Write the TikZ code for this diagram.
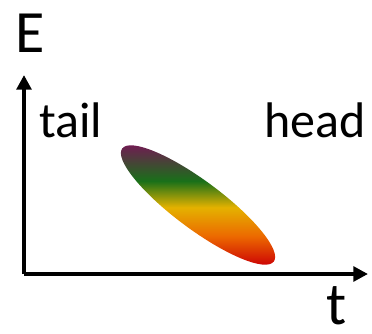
\documentclass[tikz,border=0pt]{standalone}
\usepackage{fontspec}
\setmainfont{Carlito}
\usepackage{tikz}
\usetikzlibrary{arrows.meta}

% colours of the energy blob
\definecolor{blobred}{RGB}{205,5,5}
\definecolor{bloborange}{RGB}{236,105,0}
\definecolor{blobyellow}{RGB}{228,178,0}
\definecolor{blobgreen}{RGB}{25,112,25}
\definecolor{blobpurple}{RGB}{112,28,82}
\pgfdeclareverticalshading{blobshade}{100bp}{color(0bp)=(blobred); color(25bp)=(blobred); color(37bp)=(bloborange); color(49bp)=(blobyellow); color(60bp)=(blobgreen); color(75bp)=(blobpurple); color(100bp)=(blobpurple)}

\begin{document}
\begin{tikzpicture}[
  x=0.75pt,y=-0.75pt,
  axis/.style={line width=3pt,-{Triangle[length=11pt,width=11pt]}},
  big/.style={inner sep=0pt,anchor=base west,text depth=0pt,font=\fontsize{45}{48}\selectfont},
  lab/.style={inner sep=0pt,anchor=base west,font=\fontsize{37.5}{40}\selectfont}
]
\useasboundingbox (0,0) rectangle (372,333);

\coordinate (O) at (24,274);
\coordinate (Etip) at (24,75);
\coordinate (ttip) at (368,274);

\draw[axis] (O) -- (Etip);
\draw[axis] (O) -- (ttip);

\node[big] (E) at (15,52) {E};
\node[big] (t) at (326,324) {t};
\node[lab] (tail) at (39,137) {tail};
\node[lab] (head) at (264,137) {head};

% the shaded ellipse
\begin{scope}
  \clip[shift={(198,205)},rotate=-36.7] (0,0) ellipse [x radius=70.9pt,y radius=18pt];
  \shade[shading=blobshade] (120,145) rectangle (276,265);
\end{scope}
\end{tikzpicture}
\end{document}
